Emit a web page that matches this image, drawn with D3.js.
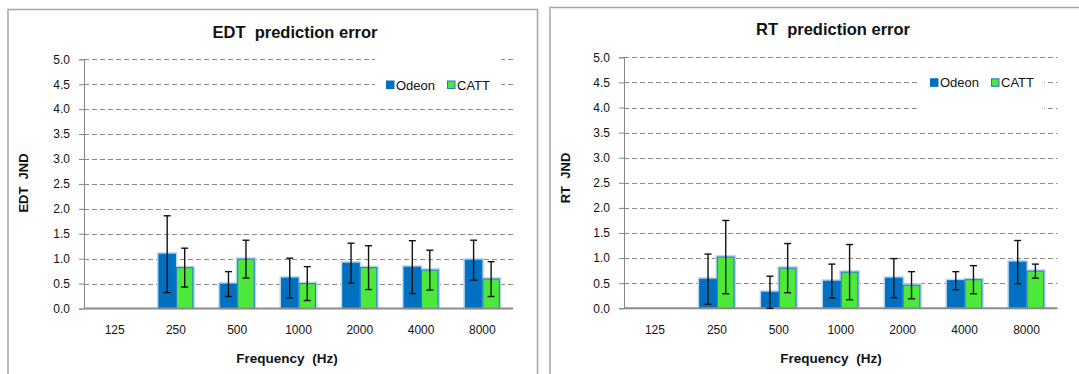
<!DOCTYPE html>
<html>
<head>
<meta charset="utf-8">
<script src="https://cdn.jsdelivr.net/npm/d3@7"></script>
<style>
  html, body { margin: 0; padding: 0; background: #fff; }
  svg { display: block; font-family: "Liberation Sans", Arial, sans-serif; }
  svg text { white-space: pre; }
</style>
</head>
<body>
<svg id="chart" width="1079" height="374"></svg>
<script>
// Octave-band centre frequencies (Hz)
const frequencies = ["125", "250", "500", "1000", "2000", "4000", "8000"];
const seriesNames = ["Odeon", "CATT"];
const yTicks = [0, 0.5, 1, 1.5, 2, 2.5, 3, 3.5, 4, 4.5, 5];

// EDT error in JND, mean and +/- spread per band (no data at 125 Hz)
const edtOdeon    = [null, 1.09, 0.49, 0.61, 0.91, 0.83, 0.97];
const edtOdeonErr = [null, 0.77, 0.25, 0.40, 0.40, 0.53, 0.40];
const edtCatt     = [null, 0.82, 0.99, 0.50, 0.82, 0.77, 0.59];
const edtCattErr  = [null, 0.39, 0.38, 0.34, 0.44, 0.40, 0.35];

// RT error in JND
const rtOdeon    = [null, 0.58, 0.32, 0.54, 0.60, 0.55, 0.92];
const rtOdeonErr = [null, 0.50, 0.32, 0.34, 0.39, 0.18, 0.43];
const rtCatt     = [null, 1.02, 0.80, 0.72, 0.46, 0.57, 0.74];
const rtCattErr  = [null, 0.73, 0.49, 0.55, 0.27, 0.28, 0.14];

const fills   = { Odeon: "#0070c0", CATT: "#4ce83a" };
const strokes = { Odeon: "#0070c0", CATT: "#2470dc" };

const svg = d3.select("#chart");

function drawPanel(cfg) {
  const g = svg.append("g");

  // chart frame
  g.append("rect")
    .attr("x", cfg.frame[0]).attr("y", cfg.frame[1])
    .attr("width", cfg.frame[2]).attr("height", cfg.frame[3])
    .attr("fill", "#fff").attr("stroke", "#a6a6a6").attr("stroke-width", 1.5);

  const x = d3.scaleBand().domain(frequencies)
    .range([cfg.plot.x0, cfg.plot.x1]).paddingInner(0).paddingOuter(0);
  const xs = d3.scaleBand().domain(seriesNames)
    .range([0, x.bandwidth()]).paddingInner(0).paddingOuter(0.75);
  const y = d3.scaleLinear().domain([0, 5]).range([cfg.plot.y0, cfg.plot.y1]);

  // dashed horizontal gridlines
  g.append("g").selectAll("line").data(yTicks.slice(1)).join("line")
    .attr("x1", cfg.plot.x0).attr("x2", cfg.plot.x1)
    .attr("y1", d => Math.round(y(d)) + 0.5).attr("y2", d => Math.round(y(d)) + 0.5)
    .attr("stroke", "#8a8a8a").attr("stroke-width", 1.2)
    .attr("stroke-dasharray", "5,3");

  // y axis
  const yAxis = d3.axisLeft(y).tickValues(yTicks).tickSize(5).tickPadding(9)
    .tickFormat(d3.format(".1f"));
  const ya = g.append("g").attr("transform", `translate(${cfg.plot.x0},0)`).call(yAxis);
  ya.select(".domain").attr("stroke", "#868686");
  ya.selectAll(".tick line").attr("stroke", "#868686");
  ya.selectAll(".tick text").attr("font-size", 12).attr("fill", "#111")
    .attr("font-family", "'Liberation Sans', Arial, sans-serif");

  // x axis (category labels)
  const xAxis = d3.axisBottom(x).tickSize(0).tickPadding(17);
  const xa = g.append("g").attr("transform", `translate(0,${cfg.plot.y0})`).call(xAxis);
  xa.select(".domain").remove();
  xa.selectAll(".tick text").attr("font-size", 12).attr("fill", "#111")
    .attr("font-family", "'Liberation Sans', Arial, sans-serif");

  const rows = [];
  frequencies.forEach((f, i) => {
    seriesNames.forEach((s, k) => {
      const v = cfg.values[k][i];
      if (v == null) return;
      rows.push({ f, s, v, e: cfg.errors[k][i] });
    });
  });

  // soft halo around bars
  g.append("g").selectAll("rect").data(rows).join("rect")
    .attr("x", d => x(d.f) + xs(d.s) - 0.5)
    .attr("y", d => y(d.v) - 1)
    .attr("width", xs.bandwidth() + 1)
    .attr("height", d => y(0) - y(d.v) + 1)
    .attr("fill", "none").attr("stroke", "#b9d6f2").attr("stroke-width", 2);

  g.append("g").selectAll("rect").data(rows).join("rect")
    .attr("x", d => x(d.f) + xs(d.s) + 0.5)
    .attr("y", d => y(d.v))
    .attr("width", xs.bandwidth() - 1)
    .attr("height", d => y(0) - y(d.v))
    .attr("fill", d => fills[d.s])
    .attr("stroke", d => strokes[d.s]).attr("stroke-width", 1);

  // x axis baseline
  g.append("line")
    .attr("x1", cfg.plot.x0).attr("x2", cfg.plot.x1)
    .attr("y1", y(0)).attr("y2", y(0))
    .attr("stroke", "#8c8c8c").attr("stroke-width", 2);

  // error bars
  const eb = g.append("g").attr("stroke", "#111").attr("stroke-width", 1.4);
  rows.forEach(d => {
    const cx = x(d.f) + xs(d.s) + xs.bandwidth() / 2;
    const lo = Math.max(0, d.v - d.e), hi = d.v + d.e;
    eb.append("line").attr("x1", cx).attr("x2", cx).attr("y1", y(hi)).attr("y2", y(lo));
    eb.append("line").attr("x1", cx - 3.5).attr("x2", cx + 3.5).attr("y1", y(hi)).attr("y2", y(hi));
    eb.append("line").attr("x1", cx - 3.5).attr("x2", cx + 3.5).attr("y1", y(lo)).attr("y2", y(lo));
  });

  // legend
  const lg = g.append("g");
  lg.append("rect")
    .attr("x", cfg.legend.box[0]).attr("y", cfg.legend.box[1])
    .attr("width", cfg.legend.box[2]).attr("height", cfg.legend.box[3])
    .attr("fill", "#fff");
  seriesNames.forEach((s, k) => {
    const lx = cfg.legend.items[k];
    lg.append("rect")
      .attr("x", lx + 0.5).attr("y", cfg.legend.y + 0.5)
      .attr("width", 7.5).attr("height", 7.5)
      .attr("fill", fills[s]).attr("stroke", strokes[s]).attr("stroke-width", 1);
    lg.append("text")
      .attr("x", lx + 10).attr("y", cfg.legend.y + 9)
      .attr("font-size", 13).attr("fill", "#111").text(s);
  });

  // titles
  g.append("text").attr("x", cfg.title[0]).attr("y", cfg.title[1])
    .attr("text-anchor", "middle").attr("font-size", 16.5).attr("font-weight", "bold")
    .attr("fill", "#111").text(cfg.titleText);
  g.append("text").attr("x", cfg.xTitle[0]).attr("y", cfg.xTitle[1])
    .attr("text-anchor", "middle").attr("font-size", 13.5).attr("font-weight", "bold")
    .attr("fill", "#111").text("Frequency  (Hz)");
  g.append("text")
    .attr("transform", `translate(${cfg.yTitle[0]},${cfg.yTitle[1]}) rotate(-90)`)
    .attr("text-anchor", "middle").attr("font-size", 13).attr("font-weight", "bold")
    .attr("fill", "#111").text(cfg.yTitleText);
}

drawPanel({
  frame: [8, 9.5, 529.5, 380],
  plot: { x0: 84, x1: 513, y0: 308.5, y1: 59.3 },
  values: [edtOdeon, edtCatt],
  errors: [edtOdeonErr, edtCattErr],
  legend: { box: [375, 58, 126, 46], y: 80.5, items: [386, 447] },
  title: [295, 37.5], titleText: "EDT  prediction error",
  xTitle: [287, 363],
  yTitle: [28, 183], yTitleText: "EDT  JND"
});

drawPanel({
  frame: [550, 7.5, 540, 380],
  plot: { x0: 624, x1: 1057.5, y0: 308.3, y1: 57.3 },
  values: [rtOdeon, rtCatt],
  errors: [rtOdeonErr, rtCattErr],
  legend: { box: [919, 64, 125, 46], y: 78.3, items: [930, 991] },
  title: [833, 34.5], titleText: "RT  prediction error",
  xTitle: [831, 363],
  yTitle: [569.5, 178], yTitleText: "RT  JND"
});
</script>
</body>
</html>
